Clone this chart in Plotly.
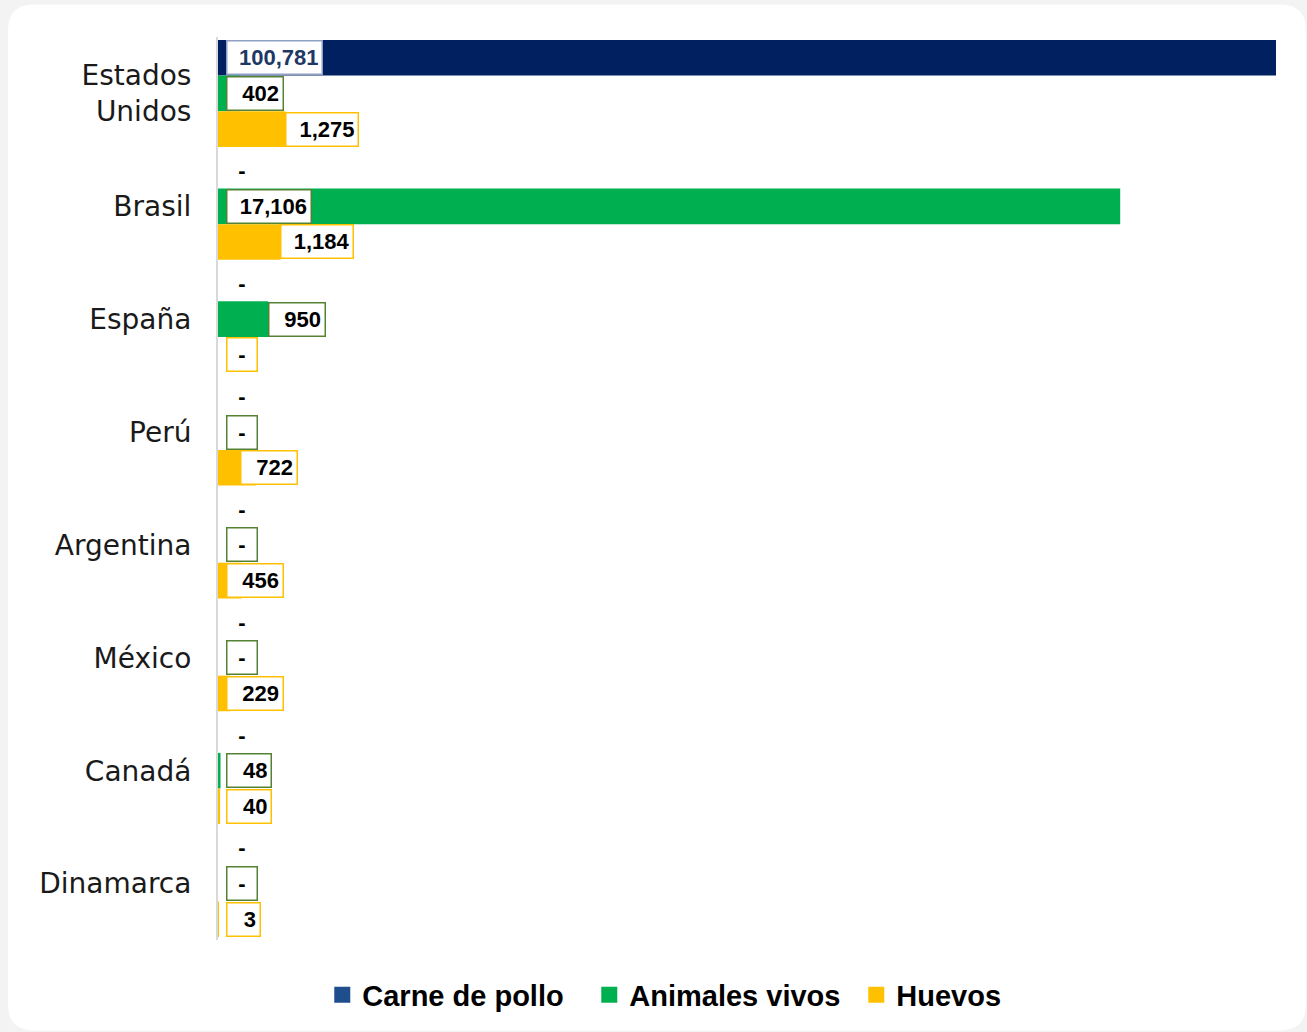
import plotly.graph_objects as go

# ---------------- data ----------------
categories = ["Estados<br>Unidos", "Brasil", "España", "Perú", "Argentina", "México", "Canadá", "Dinamarca"]
carne_de_pollo = [100781, 0, 0, 0, 0, 0, 0, 0]
animales_vivos = [402, 17106, 950, 0, 0, 0, 48, 0]
huevos = [1275, 1184, 0, 722, 456, 229, 40, 3]
series_names = ["Carne de pollo", "Animales vivos", "Huevos"]

# ---------------- style ----------------
W, H = 1307, 1032
ML, MR, MT, MB = 218, 31, 36.5, 91.5
X_MAX = 20060
BARGAP = 0.053
bar_colors = ["#002060", "#00B050", "#FFC000"]
legend_colors = ["#1F4E8C", "#00B050", "#FFC000"]
box_borders = ["#8EA0C4", "#548235", "#FFC000"]
label_colors = ["#203864", "#000000", "#000000"]
LABEL_FONT = "Liberation Sans, Arial, sans-serif"
CAT_FONT = "DejaVu Sans, sans-serif"

series = [carne_de_pollo, animales_vivos, huevos]

fig = go.Figure()
for name, vals, col in zip(series_names, series, bar_colors):
    fig.add_trace(go.Bar(
        y=categories, x=vals, name=name, orientation="h",
        marker=dict(color=col, line=dict(width=0)), showlegend=False,
    ))
# legend-only entries with larger square swatches
for name, col in zip(series_names, legend_colors):
    fig.add_trace(go.Scatter(
        x=[None], y=[None], mode="markers", name=name,
        marker=dict(symbol="square", size=16, color=col), showlegend=True,
    ))


def fmt(v):
    return "-" if v == 0 else f"{v:,}"


def label_x(v):
    # Excel-like label placement: at bar end for mid-size bars, otherwise near the base
    if 900 <= v <= 5000:
        return v
    if v > 5000:
        return 150
    return max(v - 300, 150)


def box_width(txt):
    if txt == "-":
        return 32
    digits = sum(ch.isdigit() for ch in txt)
    commas = txt.count(",")
    return 11.5 * digits + 5 * commas + 23


bw = (1 - BARGAP) / 3
annotations = []
for k, vals in enumerate(series):
    offset = (k - 1) * bw
    for i, v in enumerate(vals):
        txt = fmt(v)
        bordered = not (k == 0 and v == 0)
        annotations.append(dict(
            x=label_x(v), y=i + offset, xref="x", yref="y",
            xanchor="left", yanchor="middle",
            text=txt, showarrow=False,
            font=dict(family=LABEL_FONT, size=22,
                      color=label_colors[k] if v != 0 else "#000000", weight="bold"),
            align="center" if txt == "-" else "right",
            width=box_width(txt) - 9, height=26,
            bgcolor="white" if bordered else "rgba(0,0,0,0)",
            bordercolor=box_borders[k] if bordered else "rgba(0,0,0,0)",
            borderwidth=1.5, borderpad=3,
        ))

# rounded white card on light grey page
pw = W - ML - MR
ph = H - MT - MB


def px(xp):
    return (xp - ML) / pw


def py(yp):
    return (H - MB - yp) / ph


x0, x1, y0, y1, r = 8, 1306, 4, 1031, 26
path = (
    f"M {px(x0 + r)} {py(y0)} L {px(x1 - r)} {py(y0)} "
    f"Q {px(x1)} {py(y0)} {px(x1)} {py(y0 + r)} "
    f"L {px(x1)} {py(y1 - r)} Q {px(x1)} {py(y1)} {px(x1 - r)} {py(y1)} "
    f"L {px(x0 + r)} {py(y1)} Q {px(x0)} {py(y1)} {px(x0)} {py(y1 - r)} "
    f"L {px(x0)} {py(y0 + r)} Q {px(x0)} {py(y0)} {px(x0 + r)} {py(y0)} Z"
)

fig.update_layout(
    width=W, height=H,
    margin=dict(l=ML, r=MR, t=MT, b=MB, pad=0),
    paper_bgcolor="#F3F3F3",
    plot_bgcolor="rgba(0,0,0,0)",
    barmode="group", bargap=BARGAP, bargroupgap=0,
    showlegend=True,
    legend=dict(
        orientation="h", xref="container", yref="container",
        x=0.553, xanchor="center", y=0.036, yanchor="middle",
        font=dict(family=LABEL_FONT, size=29, color="#000000", weight="bold"),
        itemsizing="trace", traceorder="normal",
        entrywidth=222,
        bgcolor="rgba(0,0,0,0)",
    ),
    xaxis=dict(range=[0, X_MAX], visible=False, fixedrange=True),
    yaxis=dict(
        autorange="reversed", showline=True, linecolor="#D9D9D9", linewidth=2,
        showgrid=False, zeroline=False, ticks="", ticklabelstandoff=19,
        tickfont=dict(family=CAT_FONT, size=28, color="#1A1A1A"),
    ),
    shapes=[dict(type="path", xref="paper", yref="paper", path=path,
                 fillcolor="white", line=dict(width=0), layer="below")],
    annotations=annotations,
)

fig.write_html(
    "out.html",
    config={"displayModeBar": False},
    post_script="document.body.style.margin='0';document.body.style.background='#F3F3F3';",
)
